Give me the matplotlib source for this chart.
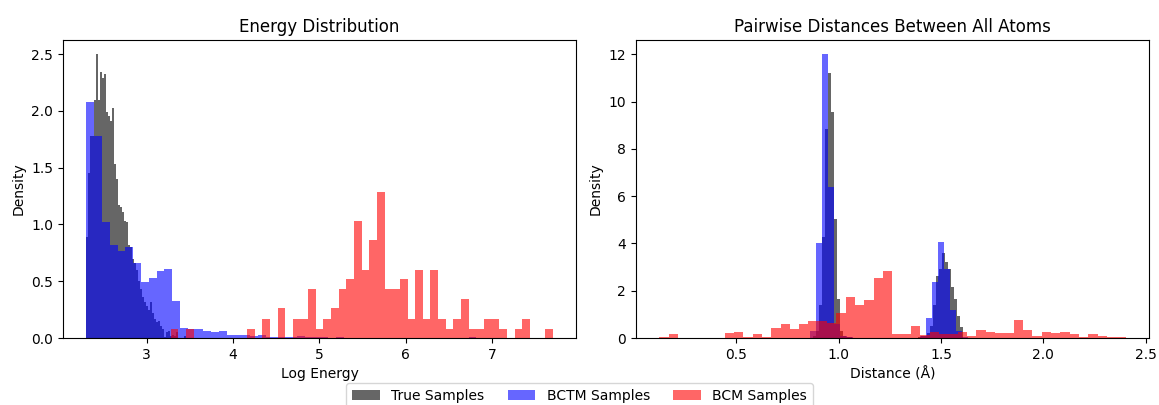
import numpy as np
import matplotlib
matplotlib.use("Agg")
import matplotlib.pyplot as plt

# --- data (densities per bin, 50 bins each) ---

# Energy distribution (log energy)
energy_true_range = (2.301, 3.459)
energy_true = [0.89, 1.45, 1.78, 1.78, 2.10, 2.50, 2.10, 2.34, 2.29, 2.33,
               1.99, 1.96, 1.91, 2.03, 1.53, 1.40, 1.17, 1.15, 1.11, 1.03,
               1.02, 0.82, 0.80, 0.70, 0.66, 0.60, 0.50, 0.43, 0.36, 0.32,
               0.28, 0.25, 0.32, 0.22, 0.17, 0.14, 0.15, 0.11, 0.08, 0.01,
               0.05, 0.06, 0.02, 0.03, 0.02, 0.05, 0.00, 0.00, 0.00, 0.02]

energy_bctm_range = (2.301, 6.821)
energy_bctm = [2.08, 1.78, 1.02, 0.82, 0.77, 0.80, 0.66, 0.49, 0.53, 0.59,
               0.61, 0.33, 0.09, 0.08, 0.08, 0.06, 0.05, 0.06, 0.03, 0.03,
               0.03, 0.02, 0.03, 0.01, 0.01, 0.01, 0.01, 0.02, 0.01, 0.01,
               0.01, 0.00, 0.01, 0.00, 0.00, 0.00, 0.00, 0.00, 0.00, 0.00,
               0.00, 0.00, 0.00, 0.00, 0.00, 0.00, 0.00, 0.00, 0.00, 0.01]

energy_bcm_range = (3.278, 7.705)
energy_bcm = [0.08, 0.00, 0.08, 0.00, 0.00, 0.00, 0.00, 0.00, 0.00, 0.00,
              0.08, 0.00, 0.17, 0.00, 0.26, 0.00, 0.17, 0.17, 0.43, 0.08,
              0.17, 0.26, 0.43, 0.52, 1.03, 0.60, 0.86, 1.29, 0.43, 0.43,
              0.52, 0.17, 0.60, 0.17, 0.60, 0.17, 0.08, 0.17, 0.34, 0.08,
              0.08, 0.17, 0.17, 0.08, 0.00, 0.08, 0.17, 0.00, 0.00, 0.08]

# Pairwise distances (Angstrom)
dist_true_range = (0.8756, 1.6073)
dist_true = [0.10, 0.30, 1.38, 4.28, 8.85, 11.2, 9.57, 5.04, 1.64, 0.30,
             0.10, 0.05, 0.03, 0.00, 0.00, 0.00, 0.00, 0.00, 0.00, 0.00,
             0.00, 0.00, 0.00, 0.00, 0.00, 0.00, 0.00, 0.00, 0.00, 0.00,
             0.00, 0.00, 0.00, 0.00, 0.00, 0.03, 0.08, 0.10, 0.20, 0.50,
             1.40, 2.64, 2.90, 3.60, 3.23, 2.90, 2.14, 1.64, 0.92, 0.46]

dist_bctm_range = (0.8605, 2.348)
dist_bctm = [0.30, 4.03, 12.0, 6.38, 0.60, 0.10, 0.03, 0.00, 0.00, 0.00,
             0.00, 0.00, 0.00, 0.00, 0.00, 0.00, 0.00, 0.00, 0.10, 0.84,
             2.35, 4.07, 2.90, 1.20, 0.30, 0.05, 0.00, 0.00, 0.00, 0.00,
             0.00, 0.00, 0.00, 0.00, 0.00, 0.00, 0.00, 0.00, 0.00, 0.00,
             0.00, 0.00, 0.00, 0.00, 0.00, 0.00, 0.00, 0.00, 0.00, 0.00]

dist_bcm_range = (0.124, 2.402)
dist_bcm = [0.04, 0.17, 0.00, 0.00, 0.00, 0.00, 0.00, 0.21, 0.25, 0.04,
            0.17, 0.04, 0.42, 0.59, 0.38, 0.59, 0.71, 0.71, 0.63, 1.05,
            1.72, 1.38, 1.59, 2.52, 2.85, 0.17, 0.17, 0.50, 0.13, 0.25,
            0.17, 0.17, 0.25, 0.08, 0.34, 0.25, 0.21, 0.21, 0.76, 0.34,
            0.08, 0.25, 0.21, 0.25, 0.17, 0.04, 0.17, 0.08, 0.04, 0.04]

labels = ["True Samples", "BCTM Samples", "BCM Samples"]
colors = ["black", "blue", "red"]


def draw_hist(ax, rng, dens, color, label):
    edges = np.linspace(rng[0], rng[1], len(dens) + 1)
    ax.hist(edges[:-1], bins=edges, weights=dens, color=color,
            alpha=0.6, label=label)


fig = plt.figure(figsize=(11.59, 4.05), dpi=100)
ax1 = fig.add_axes([0.0544, 0.1654, 0.4426, 0.7358])
ax2 = fig.add_axes([0.5487, 0.1654, 0.4426, 0.7358])

# left: energy
for rng, dens, c, lab in zip([energy_true_range, energy_bctm_range, energy_bcm_range],
                             [energy_true, energy_bctm, energy_bcm], colors, labels):
    draw_hist(ax1, rng, dens, c, lab)
ax1.set_title("Energy Distribution")
ax1.set_xlabel("Log Energy")
ax1.set_ylabel("Density")

# right: distances
for rng, dens, c, lab in zip([dist_true_range, dist_bctm_range, dist_bcm_range],
                             [dist_true, dist_bctm, dist_bcm], colors, labels):
    draw_hist(ax2, rng, dens, c, lab)
ax2.set_title("Pairwise Distances Between All Atoms")
ax2.set_xlabel("Distance (Å)")
ax2.set_ylabel("Density")

handles, labs = ax1.get_legend_handles_labels()
fig.legend(handles, labs, loc="upper center", bbox_to_anchor=(0.5, 0.071),
           ncol=3, columnspacing=1.7)

fig.savefig("out.png", dpi=100)
